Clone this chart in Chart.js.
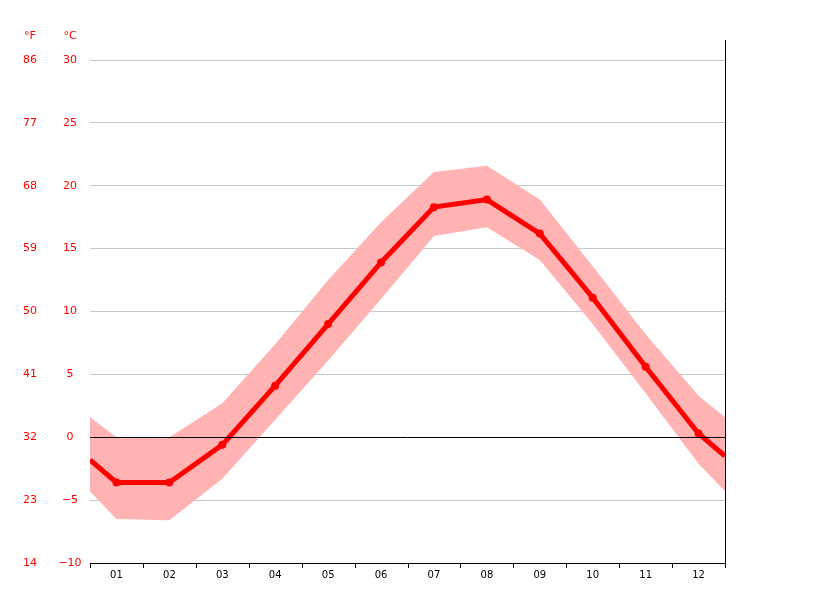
<!DOCTYPE html>
<html>
<head>
<meta charset="utf-8">
<script src="https://cdn.jsdelivr.net/npm/chart.js@4"></script>
<style>
  html, body { margin: 0; padding: 0; background: #fff; }
  #wrap { width: 815px; height: 611px; }
</style>
</head>
<body>
<div id="wrap"><canvas id="climateChart"></canvas></div>
<script>
// positions along the month axis (0.5 and 12.5 are the wrap-around edges)
const monthPos = [0.5, 1, 2, 3, 4, 5, 6, 7, 8, 9, 10, 11, 12, 12.5];
const monthLabels = ['01', '02', '03', '04', '05', '06', '07', '08', '09', '10', '11', '12'];
const avgTemp = [-1.8, -3.6, -3.6, -0.6, 4.1, 9.0, 13.9, 18.3, 18.9, 16.2, 11.1, 5.6, 0.3, -1.5];
const maxTemp = [1.6, 0.0, 0.0, 2.7, 7.4, 12.5, 17.1, 21.1, 21.6, 18.9, 13.6, 8.2, 3.3, 1.6];
const minTemp = [-4.3, -6.5, -6.6, -3.3, 1.4, 6.1, 11.0, 16.0, 16.7, 14.1, 9.0, 3.5, -2.1, -4.3];
const celsiusTicks = [30, 25, 20, 15, 10, 5, 0, -5, -10];
const fahrenheitTicks = [86, 77, 68, 59, 50, 41, 32, 23, 14];

const toPoints = arr => arr.map((v, i) => ({ x: monthPos[i], y: v }));
const labelFont = '11px "DejaVu Sans"';

// axis labels, unit headers, tick marks and frame lines
const decorations = {
    id: 'decorations',
    afterDraw(chart) {
        const ctx = chart.ctx;
        const area = chart.chartArea;
        const x = chart.scales.x;
        const y = chart.scales.y;
        ctx.save();
        ctx.font = labelFont;
        ctx.fillStyle = '#ff0000';
        ctx.textBaseline = 'middle';
        ctx.textAlign = 'center';
        celsiusTicks.forEach((c, i) => {
            const py = y.getPixelForValue(c);
            ctx.fillText(String(c).replace('-', '−'), 70, py);
            ctx.fillText(String(fahrenheitTicks[i]), 30, py);
        });
        ctx.fillText('°F', 30, 36);
        ctx.fillText('°C', 70, 36);

        // zero line
        ctx.strokeStyle = '#000';
        ctx.lineWidth = 1;
        const zy = Math.round(y.getPixelForValue(0)) + 0.5;
        ctx.beginPath();
        ctx.moveTo(area.left, zy);
        ctx.lineTo(area.right, zy);
        ctx.stroke();

        // right frame line and bottom axis
        ctx.beginPath();
        ctx.moveTo(Math.round(area.right) + 0.5, 40);
        ctx.lineTo(Math.round(area.right) + 0.5, area.bottom);
        ctx.moveTo(area.left, Math.round(area.bottom) + 0.5);
        ctx.lineTo(area.right, Math.round(area.bottom) + 0.5);
        ctx.stroke();

        // tick marks between months
        ctx.beginPath();
        for (let m = 0; m <= 12; m++) {
            const px = Math.round(x.getPixelForValue(m + 0.5)) + 0.5;
            ctx.moveTo(px, area.bottom);
            ctx.lineTo(px, area.bottom + 5);
        }
        ctx.stroke();

        // month labels
        ctx.fillStyle = '#000';
        ctx.font = '10px "DejaVu Sans"';
        monthLabels.forEach((lab, i) => {
            ctx.fillText(lab, x.getPixelForValue(i + 1), area.bottom + 12);
        });
        ctx.restore();
    }
};

const ctx = document.getElementById('climateChart').getContext('2d');
new Chart(ctx, {
    type: 'line',
    data: {
        datasets: [
            {
                label: 'avg',
                data: toPoints(avgTemp),
                borderColor: '#ff0000',
                backgroundColor: '#ff0000',
                borderWidth: 5,
                pointRadius: monthPos.map(p => (p % 1 === 0 ? 4 : 0)),
                pointBorderWidth: 0,
                tension: 0,
                fill: false,
                order: 0
            },
            {
                label: 'max',
                data: toPoints(maxTemp),
                borderWidth: 0,
                pointRadius: 0,
                backgroundColor: '#ffb3b3',
                fill: '+1',
                tension: 0,
                order: 1
            },
            {
                label: 'min',
                data: toPoints(minTemp),
                borderWidth: 0,
                pointRadius: 0,
                fill: false,
                tension: 0,
                order: 2
            }
        ]
    },
    options: {
        responsive: true,
        maintainAspectRatio: false,
        animation: false,
        layout: { padding: { left: 90, right: 90, top: 60, bottom: 40 } },
        plugins: { legend: { display: false }, tooltip: { enabled: false } },
        scales: {
            x: {
                type: 'linear',
                min: 0.5,
                max: 12.5,
                grid: { display: false },
                border: { display: false },
                ticks: { display: false }
            },
            y: {
                min: -10,
                max: 30,
                ticks: { display: false, stepSize: 5 },
                grid: { color: '#c8c8c8', drawTicks: false },
                border: { display: false }
            }
        }
    },
    plugins: [decorations]
});
</script>
</body>
</html>
